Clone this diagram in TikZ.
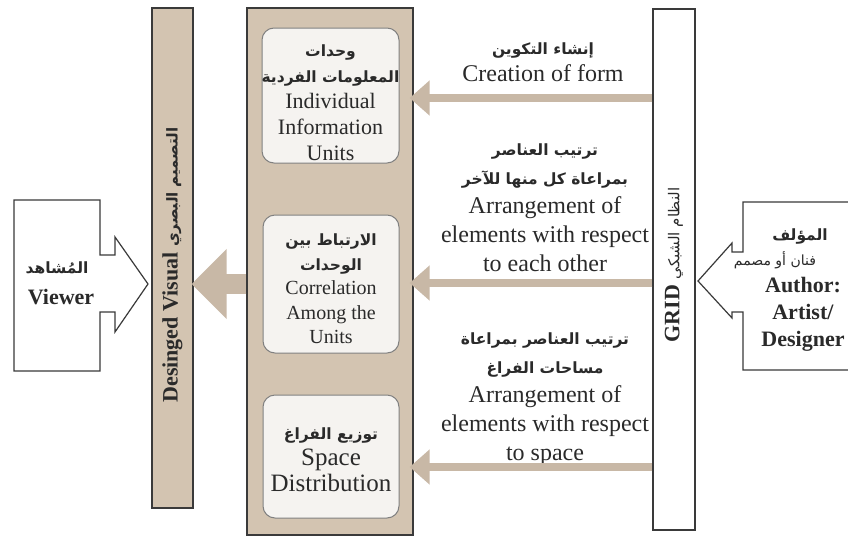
\documentclass[tikz,border=0pt]{standalone}
\usepackage{fontspec}
\setmainfont{Liberation Serif}
\newfontfamily\arabicfont[Script=Arabic]{DejaVu Sans}
\TeXXeTstate=1
\usetikzlibrary{arrows.meta}
\definecolor{paneltan}{HTML}{D3C4B1}
\definecolor{arrowtan}{HTML}{C8B8A6}
\definecolor{panelline}{HTML}{3A3A3A}
\definecolor{boxline}{HTML}{808080}
\definecolor{boxfill}{HTML}{F5F3F0}
\definecolor{txt}{HTML}{2A2A2A}
\newcommand{\artx}[1]{{\arabicfont\beginR #1\endR}}
\newcommand{\artxb}[1]{{\arabicfont\bfseries\beginR #1\endR}}
\begin{document}
\begin{tikzpicture}[x=1pt,y=-1pt,
  panel/.style={draw=panelline, line width=1.3pt, fill=paneltan, inner sep=0pt},
  gridpanel/.style={draw=panelline, line width=1.3pt, fill=white, inner sep=0pt},
  unitbox/.style={draw=boxline, line width=1pt, fill=boxfill, rounded corners=12pt, inner sep=0pt},
  thinarrow/.style={draw=arrowtan, line width=8pt, -{Triangle[width=34pt,length=20pt]}, shorten >=-4pt},
  bigarrow/.style={draw=arrowtan, line width=20pt, -{Triangle[width=68pt,length=35pt]}, shorten >=-2pt},
  outline/.style={draw=panelline, line width=1.2pt, fill=white},
  lbl/.style={align=center, text=txt, inner sep=0pt}
]
\useasboundingbox (0,0) rectangle (848,538);
\clip (0,0) rectangle (848,538);
\fill[white] (0,0) rectangle (848,538);

% panels
\node[panel, minimum width=41pt, minimum height=500pt] (dv) at (172.5,258) {};
\node[panel, minimum width=166pt, minimum height=527pt] (mid) at (330,271.5) {};
\node[gridpanel, minimum width=42pt, minimum height=521pt] (grid) at (674,269.5) {};

% rotated panel texts
\node[lbl, rotate=90, font=\fontsize{22}{26}\selectfont] (dvt) at (172.5,265)
  {\textbf{Desinged Visual} \fontsize{15}{20}\selectfont\artxb{التصميم البصري}};
\node[lbl, rotate=90, font=\fontsize{22}{26}\selectfont] (gridt) at (674,265)
  {\textbf{GRID} \fontsize{15}{20}\selectfont\artx{النظام الشبكي}};

% unit boxes
\node[unitbox, minimum width=137pt, minimum height=135pt] (u1) at (330.5,95.5) {};
\node[unitbox, minimum width=136pt, minimum height=138pt] (u2) at (331,284) {};
\node[unitbox, minimum width=136pt, minimum height=123pt] (u3) at (331,456.5) {};

\node[lbl, font=\fontsize{22}{26}\selectfont] (u1t) at (330.5,102.5)
  {{\fontsize{15.5}{26}\selectfont\artxb{وحدات}}\\
   {\fontsize{15.5}{26}\selectfont\artxb{المعلومات الفردية}}\\
   Individual\\ Information\\ Units};
\node[lbl, font=\fontsize{20}{24.5}\selectfont] (u2t) at (331,289)
  {{\fontsize{15.5}{24.5}\selectfont\artxb{الارتباط بين}}\\
   {\fontsize{15.5}{24.5}\selectfont\artxb{الوحدات}}\\
   Correlation\\ Among the\\ Units};
\node[lbl, font=\fontsize{25}{26}\selectfont] (u3t) at (331,460)
  {{\fontsize{15.5}{26}\selectfont\artxb{توزيع الفراغ}}\\
   Space\\ Distribution};

% arrow labels
\node[lbl, font=\fontsize{24}{27}\selectfont] (l1) at (543,62)
  {{\fontsize{15.5}{27}\selectfont\artxb{إنشاء التكوين}}\\ Creation of form};
\node[lbl, font=\fontsize{24}{29}\selectfont] (l2) at (545,208)
  {{\fontsize{15.5}{29}\selectfont\artxb{ترتيب العناصر}}\\
   {\fontsize{15.5}{29}\selectfont\artxb{بمراعاة كل منها للآخر}}\\
   Arrangement of\\ elements with respect\\ to each other};
\node[lbl, font=\fontsize{24}{29}\selectfont] (l3) at (545,399)
  {{\fontsize{15.5}{29}\selectfont\artxb{ترتيب العناصر بمراعاة}}\\
   {\fontsize{15.5}{29}\selectfont\artxb{مساحات الفراغ}}\\
   Arrangement of\\ elements with respect\\ to space};

% arrows
\coordinate (y1) at (0,98);
\coordinate (y2) at (0,283);
\coordinate (y3) at (0,467);
\coordinate (yb) at (0,284);
\draw[thinarrow] (grid.west |- y1) -- (mid.east |- y1);
\draw[thinarrow] (grid.west |- y2) -- (mid.east |- y2);
\draw[thinarrow] (grid.west |- y3) -- (mid.east |- y3);
\draw[bigarrow] (mid.west |- yb) -- (dv.east |- yb);

% viewer arrow shape
\draw[outline] (14,200) -- (100,200) -- (100,255) -- (115,255) -- (115,237)
  -- (148,284) -- (115,332) -- (115,312) -- (100,312) -- (100,371) -- (14,371) -- cycle;
\node[lbl, font=\fontsize{15.5}{20}\selectfont] (vwa) at (57,268) {\artxb{المُشاهد}};
\node[lbl, font=\fontsize{22}{26}\selectfont] (vwe) at (61,297) {\textbf{Viewer}};

% author arrow shape
\draw[outline] (870,202) -- (743,202) -- (743,252) -- (732,252) -- (732,243)
  -- (698,281) -- (732,318) -- (732,312) -- (743,312) -- (743,370) -- (870,370);
\node[lbl, font=\fontsize{15.5}{20}\selectfont] (aua) at (800,236) {\artxb{المؤلف}};
\node[lbl, font=\fontsize{14}{20}\selectfont] (aub) at (775,260) {\artx{فنان أو مصمم}};
\node[lbl, font=\fontsize{22}{27}\selectfont] (aue) at (803,314)
  {\textbf{Author:}\\ \textbf{Artist/}\\ \textbf{Designer}};
\end{tikzpicture}
\end{document}
